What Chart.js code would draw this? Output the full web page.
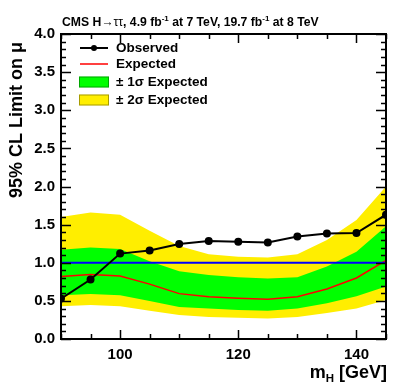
<!DOCTYPE html>
<html>
<head>
<meta charset="utf-8">
<script src="https://cdn.jsdelivr.net/npm/chart.js@4.4.1/dist/chart.umd.min.js"></script>
<style>
  html, body { margin: 0; padding: 0; background: #fff; }
  #wrap { width: 407px; height: 391px; }
</style>
</head>
<body>
<div id="wrap"><canvas id="limitChart" width="407" height="391"></canvas></div>
<script>
// Higgs mass points (GeV)
const masses = [90, 95, 100, 105, 110, 115, 120, 125, 130, 135, 140, 145];

// 95% CL limits on mu
const observed = [0.53, 0.78, 1.12, 1.16, 1.245, 1.285, 1.275, 1.265, 1.345, 1.385, 1.39, 1.63];
const expected = [0.82, 0.845, 0.825, 0.72, 0.595, 0.555, 0.535, 0.52, 0.555, 0.655, 0.80, 1.03];
const band1Hi = [1.17, 1.20, 1.18, 1.02, 0.89, 0.84, 0.81, 0.795, 0.81, 0.95, 1.145, 1.48];
const band1Lo = [0.575, 0.59, 0.575, 0.50, 0.42, 0.40, 0.38, 0.37, 0.40, 0.47, 0.56, 0.69];
const band2Hi = [1.60, 1.66, 1.63, 1.42, 1.22, 1.11, 1.08, 1.07, 1.11, 1.30, 1.56, 2.0];
const band2Lo = [0.43, 0.445, 0.43, 0.37, 0.315, 0.29, 0.28, 0.27, 0.29, 0.34, 0.40, 0.51];
const smLine = 1.0;

// axis ticks
const xTickLabels = [100, 120, 140];
const xRange = [90, 145];
const yRange = [0, 4];

const GREEN = "#00ff00";
const YELLOW = "#ffee00";
const FONT = "'Liberation Sans', Arial, sans-serif";

function pts(ys) {
    return masses.map((m, i) => ({ x: m, y: ys[i] }));
}

// frame with ROOT-style inner ticks, titles and legend
const decorations = {
    id: "decorations",
    afterDatasetsDraw(chart) {
        const ctx = chart.ctx;
        const a = chart.chartArea;
        const xs = chart.scales.x;
        const ys = chart.scales.y;
        ctx.save();
        ctx.strokeStyle = "#000";
        ctx.lineWidth = 2;
        ctx.strokeRect(a.left, a.top, a.right - a.left, a.bottom - a.top);

        ctx.lineWidth = 1.5;
        ctx.beginPath();
        for (let v = xRange[0]; v <= xRange[1]; v += 5) {
            const px = Math.round(xs.getPixelForValue(v)) + 0.5;
            const len = v % 20 === 0 ? 9 : 5;
            ctx.moveTo(px, a.bottom); ctx.lineTo(px, a.bottom - len);
            ctx.moveTo(px, a.top); ctx.lineTo(px, a.top + len);
        }
        for (let i = 0; i <= 40; i++) {
            const v = i / 10;
            const py = Math.round(ys.getPixelForValue(v)) + 0.5;
            const len = i % 5 === 0 ? 10 : 5;
            ctx.moveTo(a.left, py); ctx.lineTo(a.left + len, py);
            ctx.moveTo(a.right, py); ctx.lineTo(a.right - len, py);
        }
        ctx.stroke();

        // top label
        ctx.fillStyle = "#000";
        ctx.textBaseline = "alphabetic";
        let x = 62;
        const base = 26;
        const parts = [
            ["CMS H", "bold 12.2px " + FONT, 0],
            ["\u2192\u03c4\u03c4", "12.2px " + FONT, 0],
            [", 4.9 fb", "bold 12.2px " + FONT, 0],
            ["-1", "bold 8px " + FONT, -5],
            [" at 7 TeV, 19.7 fb", "bold 12.2px " + FONT, 0],
            ["-1", "bold 8px " + FONT, -5],
            [" at 8 TeV", "bold 12.2px " + FONT, 0]
        ];
        ctx.textAlign = "left";
        parts.forEach(p => {
            ctx.font = p[1];
            ctx.fillText(p[0], x, base + p[2]);
            x += ctx.measureText(p[0]).width;
        });

        // y title
        ctx.save();
        ctx.translate(22, 42);
        ctx.rotate(-Math.PI / 2);
        ctx.font = "bold 18px " + FONT;
        ctx.textAlign = "right";
        ctx.fillText("95% CL Limit on \u03bc", 0, 0);
        ctx.restore();

        // x title
        ctx.font = "bold 18px " + FONT;
        ctx.textAlign = "right";
        const tail = " [GeV]";
        const tailW = ctx.measureText(tail).width;
        ctx.fillText(tail, 387, 378);
        ctx.font = "bold 11.5px " + FONT;
        const hW = ctx.measureText("H").width;
        ctx.fillText("H", 387 - tailW, 382);
        ctx.font = "bold 18px " + FONT;
        ctx.fillText("m", 387 - tailW - hW, 378);

        // legend
        const rows = [48, 64, 82, 100];
        ctx.textAlign = "left";
        ctx.textBaseline = "middle";
        ctx.font = "bold 13.5px " + FONT;
        ctx.lineWidth = 2;
        ctx.strokeStyle = "#000";
        ctx.beginPath(); ctx.moveTo(80, rows[0]); ctx.lineTo(108, rows[0]); ctx.stroke();
        ctx.beginPath(); ctx.arc(94, rows[0], 3, 0, Math.PI * 2); ctx.fill();
        ctx.strokeStyle = "#ff0000";
        ctx.lineWidth = 1.5;
        ctx.beginPath(); ctx.moveTo(80, rows[1]); ctx.lineTo(108, rows[1]); ctx.stroke();
        ctx.fillStyle = GREEN;
        ctx.fillRect(79, rows[2] - 5.5, 30, 11);
        ctx.fillStyle = YELLOW;
        ctx.fillRect(79, rows[3] - 5.5, 30, 11);
        ctx.strokeStyle = "rgba(0,0,0,0.35)";
        ctx.lineWidth = 1;
        ctx.strokeRect(79.5, rows[2] - 5, 29, 10);
        ctx.strokeRect(79.5, rows[3] - 5, 29, 10);
        ctx.fillStyle = "#000";
        ctx.fillText("Observed", 116, rows[0]);
        ctx.fillText("Expected", 116, rows[1]);
        ctx.fillText("\u00b1 1\u03c3 Expected", 116, rows[2]);
        ctx.fillText("\u00b1 2\u03c3 Expected", 116, rows[3]);
        ctx.restore();
    }
};

new Chart(document.getElementById("limitChart"), {
    type: "line",
    data: {
        datasets: [
            {
                label: "Observed", data: pts(observed), order: 0,
                borderColor: "#000", backgroundColor: "#000", borderWidth: 2,
                pointRadius: 3, pointHoverRadius: 3, tension: 0, fill: false
            },
            {
                label: "SM", data: [{ x: xRange[0], y: smLine }, { x: xRange[1], y: smLine }], order: 1,
                borderColor: "#0000ff", borderWidth: 2, pointRadius: 0, fill: false
            },
            {
                label: "Expected", data: pts(expected), order: 2,
                borderColor: "#ff0000", borderWidth: 1.5, pointRadius: 0, fill: false
            },
            {
                label: "1s hi", data: pts(band1Hi), order: 3,
                borderWidth: 0, pointRadius: 0, fill: "+1", backgroundColor: GREEN
            },
            {
                label: "1s lo", data: pts(band1Lo), order: 4,
                borderWidth: 0, pointRadius: 0, fill: false
            },
            {
                label: "2s hi", data: pts(band2Hi), order: 5,
                borderWidth: 0, pointRadius: 0, fill: "+1", backgroundColor: YELLOW
            },
            {
                label: "2s lo", data: pts(band2Lo), order: 6,
                borderWidth: 0, pointRadius: 0, fill: false
            }
        ]
    },
    options: {
        responsive: false,
        animation: false,
        layout: { padding: { left: 0, top: 34, right: 21, bottom: 0 } },
        plugins: {
            legend: { display: false },
            tooltip: { enabled: false }
        },
        scales: {
            x: {
                type: "linear",
                min: xRange[0], max: xRange[1],
                grid: { display: false, drawTicks: false },
                border: { display: false },
                afterBuildTicks: axis => { axis.ticks = xTickLabels.map(v => ({ value: v })); },
                afterFit: axis => { axis.height = 52; },
                ticks: {
                    padding: 7, maxRotation: 0, color: "#000",
                    font: { family: FONT, size: 15, weight: "bold" }
                }
            },
            y: {
                min: yRange[0], max: yRange[1],
                grid: { display: false, drawTicks: false },
                border: { display: false },
                afterFit: axis => { axis.width = 61; },
                ticks: {
                    stepSize: 0.5, padding: 6, color: "#000",
                    callback: v => v.toFixed(1),
                    font: { family: FONT, size: 15, weight: "bold" }
                }
            }
        }
    },
    plugins: [decorations]
});
</script>
</body>
</html>
